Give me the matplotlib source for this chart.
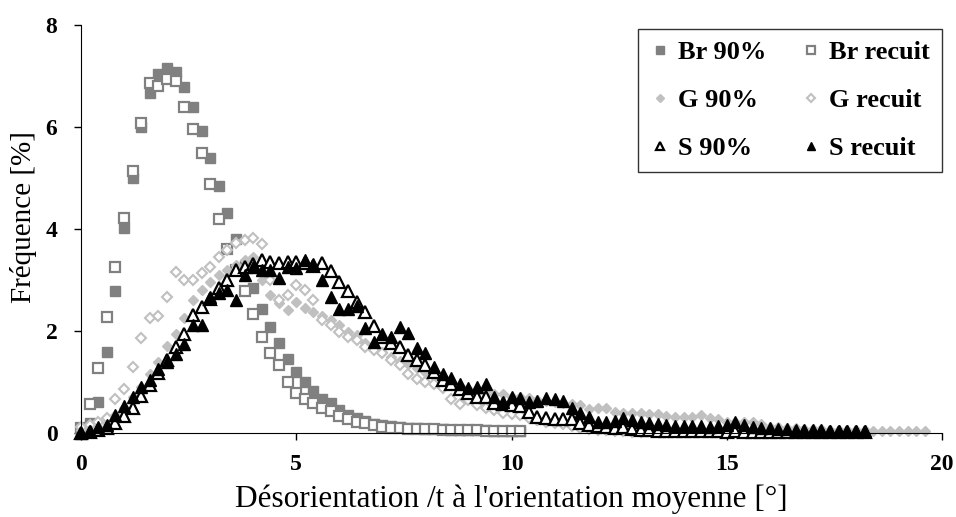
import numpy as np
import matplotlib
matplotlib.use("Agg")
import matplotlib.pyplot as plt

plt.rcParams["font.family"] = ["Liberation Serif", "DejaVu Serif"]

# all series sampled every 0.2 degree starting at 0
step = 0.2

br_90 = [0.05, 0.20, 0.61, 1.59, 2.78, 4.01, 5.00, 6.00, 6.67, 7.04,
         7.15, 7.07, 6.79, 6.39, 5.93, 5.39, 4.84, 4.31, 3.80, 3.30,
         2.84, 2.44, 2.08, 1.76, 1.46, 1.20, 1.00, 0.82, 0.66, 0.58,
         0.46, 0.36, 0.30, 0.24, 0.18, 0.15, 0.13, 0.11, 0.10, 0.09,
         0.08, 0.07, 0.07, 0.06, 0.06, 0.05, 0.05, 0.05, 0.04, 0.04,
         0.04, 0.04]

br_recuit = [0.10, 0.57, 1.27, 2.27, 3.25, 4.22, 5.14, 6.08, 6.86, 6.80,
             6.95, 6.90, 6.39, 5.96, 5.50, 4.88, 4.19, 3.60, 3.20, 2.79,
             2.33, 1.88, 1.56, 1.33, 1.00, 0.79, 0.66, 0.58, 0.50, 0.44,
             0.34, 0.27, 0.22, 0.19, 0.15, 0.12, 0.10, 0.09, 0.08, 0.08,
             0.07, 0.07, 0.06, 0.06, 0.05, 0.05, 0.05, 0.04, 0.04, 0.04,
             0.04, 0.03]

g_90 = [0.05, 0.08, 0.12, 0.20, 0.35, 0.50, 0.70, 0.90, 1.15, 1.40,
        1.70, 1.95, 2.25, 2.61, 2.80, 2.97, 3.10, 3.20, 3.29, 3.40,
        3.45, 3.00, 2.70, 2.55, 2.41, 2.57, 2.45, 2.38, 2.30, 2.22,
        2.12, 1.99, 1.92, 1.76, 1.66, 1.58, 1.50, 1.42, 1.35, 1.28,
        1.20, 1.12, 1.05, 0.98, 0.92, 0.86, 0.80, 0.78, 0.76, 0.76,
        0.71, 0.71, 0.68, 0.64, 0.62, 0.60, 0.58, 0.57, 0.55, 0.48,
        0.50, 0.50, 0.42, 0.40, 0.40, 0.40, 0.38, 0.38, 0.34, 0.32,
        0.31, 0.32, 0.35, 0.30, 0.27, 0.22, 0.21, 0.22, 0.22, 0.17,
        0.12, 0.12, 0.10, 0.09, 0.08, 0.07, 0.07, 0.06, 0.06, 0.05,
        0.05, 0.05, 0.04, 0.04, 0.04, 0.04, 0.04, 0.04, 0.04]

g_recuit = [0.12, 0.15, 0.22, 0.29, 0.66, 0.86, 1.30, 1.86, 2.25, 2.29,
            2.67, 3.16, 3.00, 3.00, 3.13, 3.26, 3.46, 3.59, 3.72, 3.78,
            3.82, 3.71, 3.00, 2.61, 2.70, 2.90, 2.80, 2.61, 2.22, 2.12,
            1.99, 1.89, 1.82, 1.69, 1.62, 1.56, 1.43, 1.33, 1.16, 1.05,
            1.00, 0.97, 0.88, 0.66, 0.57, 0.65, 0.55, 0.50, 0.45, 0.40,
            0.38, 0.35, 0.30, 0.25, 0.22, 0.20, 0.17, 0.14, 0.10, 0.08,
            0.06, 0.05, 0.04, 0.03, 0.02, 0.02]

s_90 = [0.00, 0.02, 0.05, 0.10, 0.19, 0.33, 0.50, 0.72, 0.95, 1.18,
        1.43, 1.69, 1.95, 2.31, 2.48, 2.62, 2.84, 3.00, 3.20, 3.26,
        3.31, 3.39, 3.36, 3.34, 3.36, 3.36, 3.34, 3.27, 3.33, 3.18,
        2.97, 2.79, 2.57, 2.38, 2.10, 1.89, 1.76, 1.69, 1.53, 1.43,
        1.33, 1.20, 1.04, 0.97, 0.86, 0.78, 0.71, 0.71, 0.59, 0.57,
        0.55, 0.53, 0.42, 0.32, 0.30, 0.28, 0.28, 0.27, 0.19, 0.16,
        0.13, 0.11, 0.10, 0.12, 0.08, 0.06, 0.05, 0.04, 0.04, 0.03,
        0.03, 0.03, 0.04, 0.03, 0.03, 0.02, 0.03, 0.02, 0.02, 0.02,
        0.02, 0.02, 0.01, 0.02, 0.01, 0.01, 0.01, 0.01, 0.01, 0.01,
        0.01, 0.01]

s_recuit = [0.00, 0.03, 0.11, 0.16, 0.35, 0.52, 0.71, 0.90, 1.04, 1.25,
            1.40, 1.55, 1.75, 2.12, 2.12, 2.67, 2.74, 2.80, 2.61, 3.10,
            3.26, 3.20, 3.20, 3.03, 3.26, 3.24, 3.39, 3.31, 3.00, 2.67,
            2.44, 2.44, 2.49, 2.05, 1.79, 1.95, 1.89, 2.08, 1.97, 1.66,
            1.56, 1.30, 1.16, 1.07, 0.96, 0.88, 0.91, 0.97, 0.71, 0.61,
            0.71, 0.69, 0.61, 0.62, 0.68, 0.66, 0.62, 0.50, 0.39, 0.32,
            0.22, 0.22, 0.24, 0.29, 0.25, 0.22, 0.19, 0.17, 0.15, 0.14,
            0.13, 0.14, 0.13, 0.12, 0.14, 0.16, 0.22, 0.15, 0.12, 0.10,
            0.09, 0.08, 0.07, 0.06, 0.06, 0.05, 0.05, 0.04, 0.04, 0.04,
            0.03, 0.03]

x_ticks = [0, 5, 10, 15, 20]
y_ticks = [0, 2, 4, 6, 8]


def xs(values):
    return np.arange(len(values)) * step


fig = plt.figure(figsize=(9.56, 5.17), dpi=100)
ax = fig.add_axes([81 / 956, 1 - 433 / 517, (942 - 81) / 956, (433 - 25) / 517])

br_col = "#808080"
g_col = "#c0c0c0"

h_br90, = ax.plot(xs(br_90), br_90, "s", ms=7, color=br_col, mec=br_col, ls="none", label="Br 90%")
h_brr, = ax.plot(xs(br_recuit), br_recuit, "s", ms=7, mfc="white", mec=br_col, mew=1.6, ls="none", label="Br recuit")
h_g90, = ax.plot(xs(g_90), g_90, "D", ms=4.8, color=g_col, mec=g_col, ls="none", label="G 90%")
h_gr, = ax.plot(xs(g_recuit), g_recuit, "D", ms=4.8, mfc="white", mec=g_col, mew=1.5, ls="none", label="G recuit")
h_s90, = ax.plot(xs(s_90), s_90, "^", ms=8, mfc="white", mec="black", mew=1.6, ls="none", label="S 90%")
h_sr, = ax.plot(xs(s_recuit), s_recuit, "^", ms=8, color="black", ls="none", label="S recuit")

for h in (h_br90, h_brr, h_g90, h_gr, h_s90, h_sr):
    h.set_clip_on(False)

ax.set_xlim(0, 20)
ax.set_ylim(0, 8)
ax.set_xticks(x_ticks)
ax.set_yticks(y_ticks)
ax.spines["top"].set_visible(False)
ax.spines["right"].set_visible(False)
ax.tick_params(direction="out", length=5, width=1, labelsize=17)
ax.tick_params(axis="x", pad=10)
ax.tick_params(axis="y", pad=12)
for lab in ax.get_xticklabels() + ax.get_yticklabels():
    lab.set_fontweight("bold")

ax.set_xlabel("Désorientation /t à l'orientation moyenne [°]", fontsize=22.5)
ax.xaxis.set_label_coords(0.5, -0.127)
ax.set_ylabel("Fréquence [%]", fontsize=21)
ax.yaxis.set_label_coords(-0.051, 0.53)

leg = ax.legend(handles=[h_br90, h_g90, h_s90, h_brr, h_gr, h_sr], ncol=2,
                loc="upper left", bbox_to_anchor=(638 / 956, 1 - 29 / 517),
                bbox_transform=fig.transFigure, borderaxespad=0,
                frameon=True, fancybox=False, edgecolor="black",
                prop={"weight": "bold", "size": 19},
                markerscale=0.8, handletextpad=0.32, handlelength=0.75,
                columnspacing=1.3, labelspacing=0.92, borderpad=0.45)
leg.get_frame().set_linewidth(1)

fig.savefig("out.png", dpi=100)
